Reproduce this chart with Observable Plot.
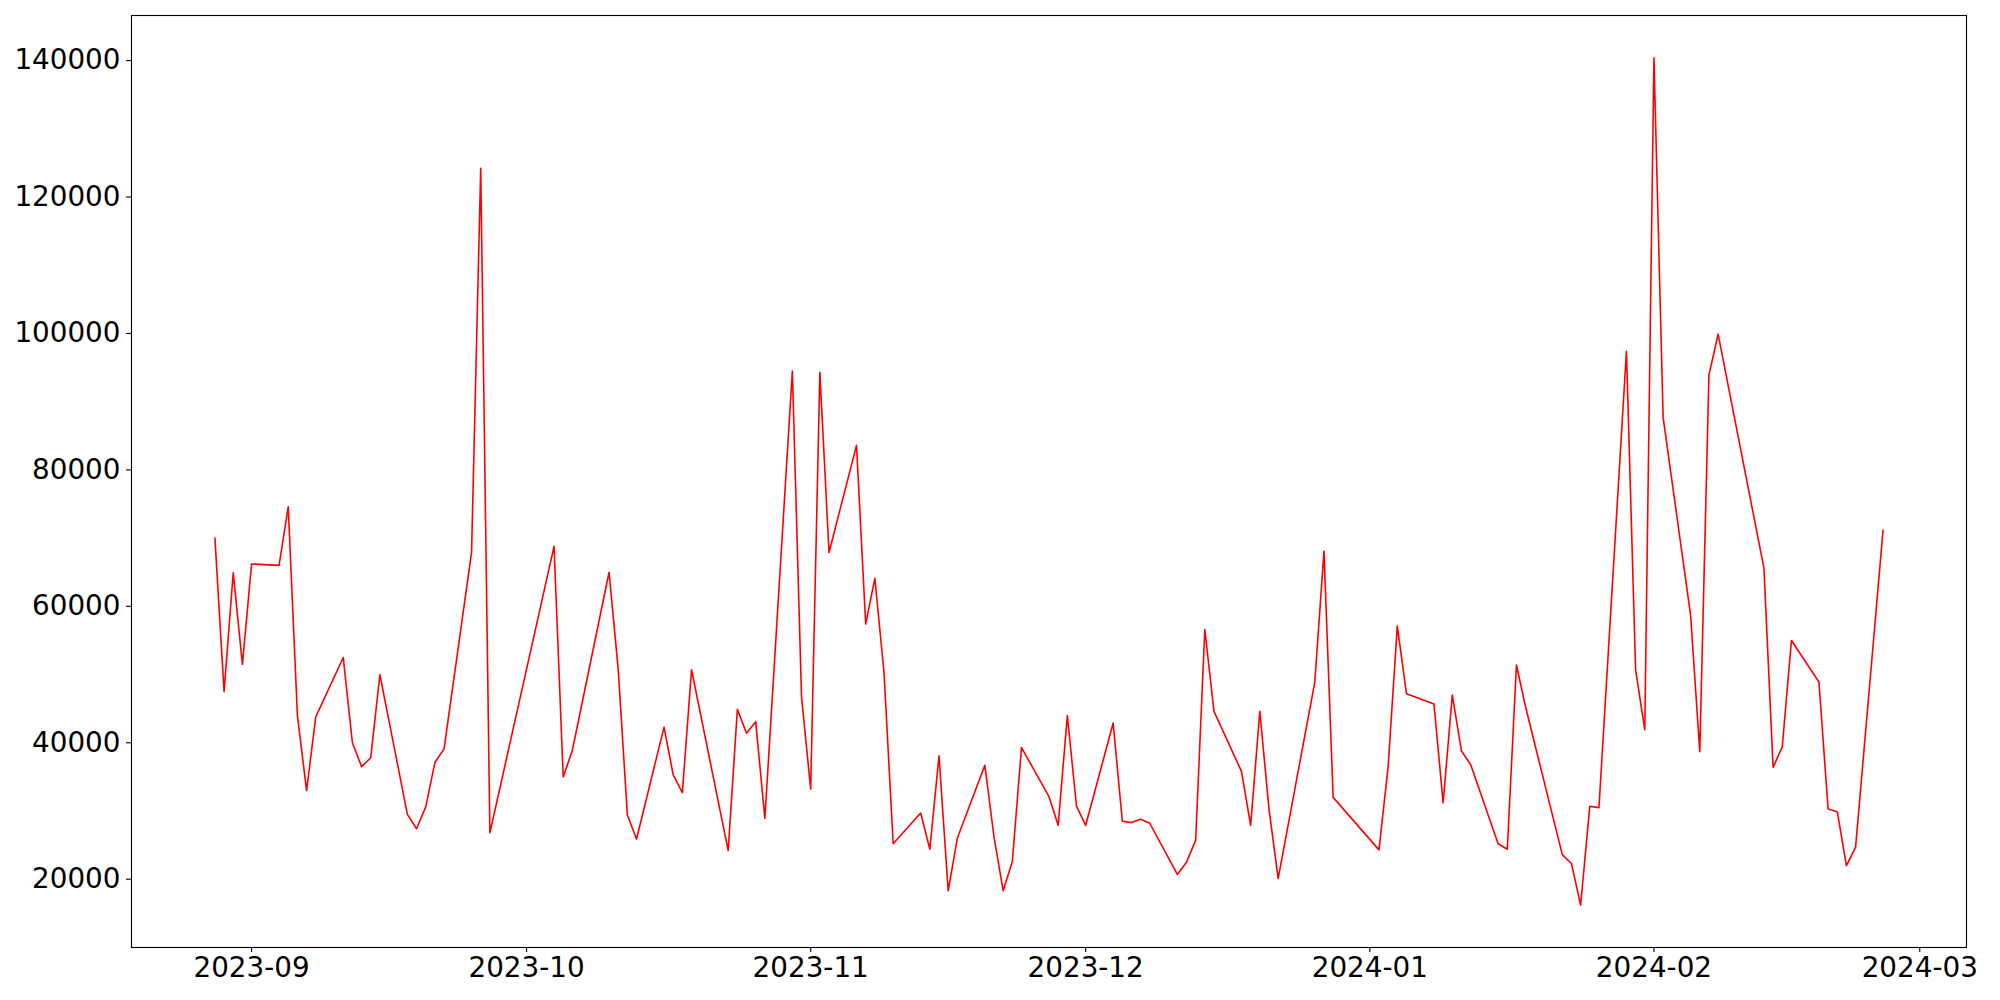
<!DOCTYPE html>
<html>
<head>
<meta charset="utf-8">
<script src="https://cdn.jsdelivr.net/npm/d3@7"></script>
<script src="https://cdn.jsdelivr.net/npm/@observablehq/plot@0.6"></script>
<style>
  html, body { margin: 0; padding: 0; background: white; overflow: hidden; }
</style>
</head>
<body>
<div id="chart"></div>
<script>
const dates = [
  "2023-08-28","2023-08-29","2023-08-30","2023-08-31","2023-09-01",
  "2023-09-04","2023-09-05","2023-09-06","2023-09-07","2023-09-08",
  "2023-09-11","2023-09-12","2023-09-13","2023-09-14","2023-09-15",
  "2023-09-18","2023-09-19","2023-09-20","2023-09-21","2023-09-22",
  "2023-09-25","2023-09-26","2023-09-27",
  "2023-10-04","2023-10-05","2023-10-06",
  "2023-10-10","2023-10-11","2023-10-12","2023-10-13",
  "2023-10-16","2023-10-17","2023-10-18","2023-10-19",
  "2023-10-23","2023-10-24","2023-10-25","2023-10-26","2023-10-27",
  "2023-10-30","2023-10-31","2023-11-01","2023-11-02","2023-11-03",
  "2023-11-06","2023-11-07","2023-11-08","2023-11-09","2023-11-10",
  "2023-11-13","2023-11-14","2023-11-15","2023-11-16","2023-11-17",
  "2023-11-20","2023-11-21","2023-11-22","2023-11-23","2023-11-24",
  "2023-11-27","2023-11-28","2023-11-29","2023-11-30","2023-12-01",
  "2023-12-04","2023-12-05","2023-12-06","2023-12-07","2023-12-08",
  "2023-12-11","2023-12-12","2023-12-13","2023-12-14","2023-12-15",
  "2023-12-18","2023-12-19","2023-12-20","2023-12-21","2023-12-22",
  "2023-12-26","2023-12-27","2023-12-28",
  "2024-01-02","2024-01-03","2024-01-04","2024-01-05",
  "2024-01-08","2024-01-09","2024-01-10","2024-01-11","2024-01-12",
  "2024-01-15","2024-01-16","2024-01-17","2024-01-18",
  "2024-01-22","2024-01-23","2024-01-24","2024-01-25","2024-01-26",
  "2024-01-29","2024-01-30","2024-01-31","2024-02-01","2024-02-02",
  "2024-02-05","2024-02-06","2024-02-07","2024-02-08",
  "2024-02-13","2024-02-14","2024-02-15","2024-02-16",
  "2024-02-19","2024-02-20","2024-02-21","2024-02-22","2024-02-23",
  "2024-02-26"
];

const values = [
  70000, 47500, 64900, 51500, 66200,
  66000, 74600, 44000, 33000, 43800,
  52500, 40000, 36500, 37800, 50000,
  29500, 27400, 30600, 37100, 39100,
  67900, 124200, 26800,
  68800, 35000, 38900,
  65000, 50800, 29400, 25900,
  42300, 35300, 32700, 50700,
  24200, 44900, 41400, 43100, 28900,
  94500, 46700, 33200, 94300, 67900,
  83600, 57400, 64100, 50300, 25200,
  29700, 24400, 38100, 18300, 26000,
  36700, 26200, 18300, 22600, 39300,
  32100, 27900, 44000, 30700, 27900,
  42900, 28500, 28300, 28800, 28200,
  20700, 22500, 25700, 56600, 44600,
  35800, 27900, 44600, 30300, 20100,
  48900, 68100, 32000,
  24300, 36500, 57100, 47200,
  45700, 31200, 47000, 38800, 36800,
  25200, 24400, 51400, 45200,
  23600, 22300, 16200, 30700, 30500,
  97400, 50700, 41900, 140400, 87700,
  58700, 38700, 93900, 99900,
  65600, 36400, 39400, 55000,
  48900, 30300, 29900, 22000, 24700,
  71200
];

const yTicks = [20000, 40000, 60000, 80000, 100000, 120000, 140000];
const tickFormatX = "%Y-%m";

const data = dates.map((d, i) => ({ date: new Date(d + "T00:00:00Z"), value: values[i] }));

// matplotlib-style 5% auto margins
function padded(extent) {
  const [a, b] = extent;
  const span = +b - +a;
  return [+a - 0.05 * span, +b + 0.05 * span];
}
const xExt = padded(d3.extent(data, d => d.date));
const xDomain = [new Date(xExt[0]), new Date(xExt[1])];
const yDomain = padded(d3.extent(values));

const chart = Plot.plot({
  width: 2000,
  height: 1000,
  marginLeft: 131,
  marginRight: 34,
  marginTop: 15,
  marginBottom: 53,
  style: { fontFamily: "DejaVu Sans", fontSize: "27.8px", color: "black", background: "white" },
  x: { type: "utc", domain: xDomain },
  y: { domain: yDomain },
  marks: [
    Plot.lineY(data, { x: "date", y: "value", stroke: "red", strokeWidth: 1.6 }),
    Plot.frame({ stroke: "black", strokeWidth: 1.1 }),
    Plot.axisX({
      ticks: "month",
      tickFormat: d3.utcFormat(tickFormatX),
      tickSize: 5,
      tickPadding: 5,
      strokeWidth: 1.1,
      label: null
    }),
    Plot.axisY({
      ticks: yTicks,
      tickFormat: d => String(d),
      tickSize: 5,
      tickPadding: 6,
      strokeWidth: 1.1,
      label: null
    })
  ]
});

document.getElementById("chart").appendChild(chart);
</script>
</body>
</html>
